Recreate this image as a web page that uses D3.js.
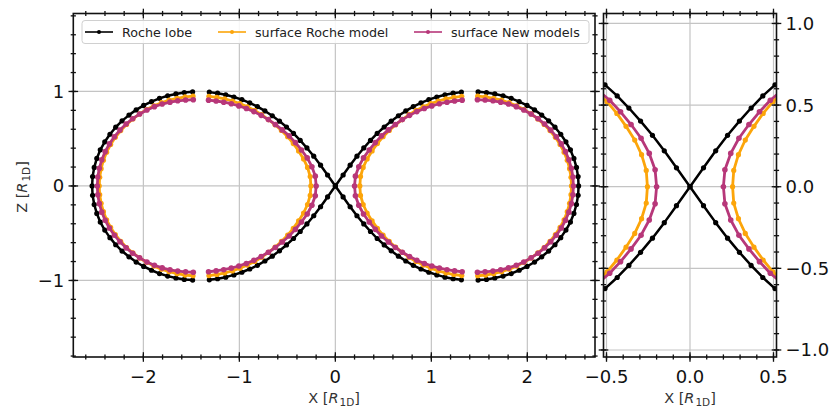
<!DOCTYPE html>
<html><head><meta charset="utf-8">
<script src="https://cdn.jsdelivr.net/npm/d3@7"></script>
<style>html,body{margin:0;padding:0;background:#fff;} svg{display:block;font-family:"DejaVu Sans",sans-serif;}</style>
</head><body><svg id="c" width="840" height="408"></svg>
<script>
// ---- data (upper half of the right-hand lobe; the figure is mirror symmetric in X and Z) ----
const seriesNames = ["Roche lobe", "surface Roche model", "surface New models"];
// outer branch (far side of the star, back point -> near pole)
const rocheOuterX = [2.534,2.529,2.512,2.485,2.449,2.402,2.348,2.288,2.222,2.150,2.075,1.997,1.915,1.832,1.747,1.661,1.574,1.487];
const rocheOuterZ = [0,0.099,0.196,0.291,0.382,0.467,0.547,0.622,0.689,0.750,0.805,0.852,0.892,0.927,0.954,0.974,0.989,0.996];
// inner branch (near pole -> L1 point)
const rocheInnerX = [1.313,1.227,1.142,1.057,0.974,0.892,0.812,0.734,0.657,0.582,0.509,0.436,0.366,0.296,0.225,0.154,0.081,0];
const rocheInnerZ = [0.993,0.982,0.965,0.941,0.913,0.879,0.840,0.794,0.743,0.686,0.624,0.556,0.482,0.402,0.315,0.220,0.116,0];

const surfRocheOuterX = [2.460,2.455,2.440,2.416,2.383,2.341,2.292,2.236,2.175,2.109,2.040,1.966,1.889,1.811,1.731,1.649,1.566,1.483];
const surfRocheOuterZ = [0,0.092,0.183,0.272,0.358,0.439,0.515,0.586,0.651,0.709,0.762,0.808,0.848,0.881,0.908,0.928,0.943,0.950];
const surfRocheInnerX = [1.317,1.235,1.153,1.073,0.994,0.917,0.841,0.768,0.697,0.628,0.562,0.497,0.438,0.383,0.331,0.290,0.262,0.255];
const surfRocheInnerZ = [0.948,0.937,0.921,0.899,0.871,0.837,0.799,0.754,0.703,0.648,0.587,0.521,0.449,0.370,0.286,0.196,0.100,0];

const surfNewOuterX = [2.480,2.475,2.459,2.433,2.398,2.354,2.302,2.244,2.180,2.112,2.039,1.963,1.885,1.804,1.723,1.642,1.560,1.480];
const surfNewOuterZ = [0,0.094,0.187,0.277,0.363,0.445,0.521,0.591,0.655,0.712,0.761,0.804,0.839,0.867,0.887,0.901,0.909,0.913];
const surfNewInnerX = [1.321,1.242,1.163,1.084,1.005,0.927,0.849,0.773,0.698,0.625,0.553,0.481,0.416,0.353,0.293,0.244,0.209,0.200];
const surfNewInnerZ = [0.908,0.899,0.886,0.870,0.847,0.820,0.787,0.747,0.702,0.651,0.593,0.530,0.459,0.381,0.297,0.204,0.104,0];

// tick labels
const leftXTicks = [-2,-1,0,1,2];
const leftYTicks = [-1,0,1];
const rightXTicks = [-0.5,0,0.5];
const rightYTicks = [-1,-0.5,0,0.5,1];

// ---- layout ----
const colors = ["#000000", "#fca50a", "#b73779"];
const svg = d3.select("#c");
const L = {x0:73.3, x1:595, y0:13.5, y1:357};
const R = {x0:603.5, x1:776.5, y0:13.5, y1:357};
const xL = d3.scaleLinear().domain([-2.73, 2.705]).range([L.x0, L.x1]);
const yL = d3.scaleLinear().domain([-1.81, 1.825]).range([L.y1, L.y0]);
const xR = d3.scaleLinear().domain([-0.518, 0.518]).range([R.x0, R.x1]);
const yR = d3.scaleLinear().domain([-1.043, 1.061]).range([R.y1, R.y0]);

function zip(xs, zs){ return xs.map((x,i)=>[x, zs[i]]); }
function branches(ox, oz, ix, iz){
  const ou = zip(ox, oz), iu = zip(ix, iz);
  const outer = [...ou.slice().reverse(), ...ou.slice(1).map(([x,z])=>[x,-z])];
  const inner = [...iu, ...iu.slice(0,-1).reverse().map(([x,z])=>[x,-z])];
  const right = [outer, inner];
  const left = right.map(b=>b.map(([x,z])=>[-x,z]));
  return right.concat(left);
}
const series = [
  {name: seriesNames[0], color: colors[0], lw: 2.5, r: 2.6, paths: branches(rocheOuterX, rocheOuterZ, rocheInnerX, rocheInnerZ)},
  {name: seriesNames[1], color: colors[1], lw: 2.8, r: 2.6, paths: branches(surfRocheOuterX, surfRocheOuterZ, surfRocheInnerX, surfRocheInnerZ)},
  {name: seriesNames[2], color: colors[2], lw: 2.8, r: 2.8, paths: branches(surfNewOuterX, surfNewOuterZ, surfNewInnerX, surfNewInnerZ)}
];

const defs = svg.append("defs");
function panel(id, box, xs, ys, xMajor, yMajor, xMinor, yMinor, xTickVals, yTickVals, yLabelsRight){
  defs.append("clipPath").attr("id", id).append("rect")
    .attr("x", box.x0).attr("y", box.y0).attr("width", box.x1-box.x0).attr("height", box.y1-box.y0);
  const g = svg.append("g");
  // grid
  const grid = g.append("g").attr("stroke", "#c4c4c4").attr("stroke-width", 1.2).attr("clip-path", `url(#${id})`);
  xMajor.forEach(v=>grid.append("line").attr("x1", xs(v)).attr("x2", xs(v)).attr("y1", box.y0).attr("y2", box.y1));
  yMajor.forEach(v=>grid.append("line").attr("y1", ys(v)).attr("y2", ys(v)).attr("x1", box.x0).attr("x2", box.x1));
  // curves
  const cg = g.append("g").attr("clip-path", `url(#${id})`);
  const line = d3.line().x(d=>xs(d[0])).y(d=>ys(d[1]));
  series.forEach(s=>{
    s.paths.forEach(p=>{
      cg.append("path").attr("d", line(p)).attr("fill", "none").attr("stroke", s.color)
        .attr("stroke-width", s.lw).attr("stroke-linejoin", "round");
      cg.selectAll(null).data(p).enter().append("circle")
        .attr("cx", d=>xs(d[0])).attr("cy", d=>ys(d[1])).attr("r", s.r).attr("fill", s.color);
    });
  });
  // spines
  g.append("rect").attr("x", box.x0).attr("y", box.y0).attr("width", box.x1-box.x0).attr("height", box.y1-box.y0)
    .attr("fill", "none").attr("stroke", "#111").attr("stroke-width", 1.6);
  // ticks (in-out on all sides)
  const tk = g.append("g").attr("stroke", "#111").attr("stroke-width", 1.3);
  function xt(v, len){ const x = xs(v);
    tk.append("line").attr("x1", x).attr("x2", x).attr("y1", box.y1-len).attr("y2", box.y1+len);
    tk.append("line").attr("x1", x).attr("x2", x).attr("y1", box.y0-len).attr("y2", box.y0+len); }
  function yt(v, len){ const y = ys(v);
    tk.append("line").attr("y1", y).attr("y2", y).attr("x1", box.x0-len).attr("x2", box.x0+len);
    tk.append("line").attr("y1", y).attr("y2", y).attr("x1", box.x1-len).attr("x2", box.x1+len); }
  xMinor.forEach(v=>xt(v, 2.6)); yMinor.forEach(v=>yt(v, 2.6));
  xMajor.forEach(v=>xt(v, 4.8)); yMajor.forEach(v=>yt(v, 4.8));
  // labels
  g.append("g").selectAll("text").data(xTickVals.vals).enter().append("text")
    .attr("x", d=>xs(d)).attr("y", box.y1+26).attr("text-anchor", "middle")
    .attr("font-size", 18).attr("fill", "#111").text(d=>(d<0?"\u2212":"")+xTickVals.fmt(Math.abs(d)));
  g.append("g").selectAll("text").data(yTickVals.vals).enter().append("text")
    .attr("x", yLabelsRight ? box.x1+9 : box.x0-9).attr("y", d=>ys(d)+6.5)
    .attr("text-anchor", yLabelsRight ? "start" : "end")
    .attr("font-size", 18).attr("fill", "#111").text(d=>(d<0?"\u2212":"")+yTickVals.fmt(Math.abs(d)));
  return g;
}
const rng = (a,b,s)=>d3.range(Math.round(a/s), Math.round(b/s)+1).map(i=>+(i*s).toFixed(3));
panel("clipL", L, xL, yL, leftXTicks, leftYTicks,
  rng(-2.6, 2.6, 0.2), rng(-1.8, 1.8, 0.2),
  {vals: leftXTicks, fmt: d3.format("d")}, {vals: leftYTicks, fmt: d3.format("d")}, false);
panel("clipR", R, xR, yR, rightXTicks, rightYTicks,
  rng(-0.5, 0.5, 0.1), rng(-1.0, 1.0, 0.1),
  {vals: rightXTicks, fmt: d3.format(".1f")}, {vals: rightYTicks, fmt: d3.format(".1f")}, true);

// axis labels
function axisLabel(x, y, letter, rotate){
  const t = svg.append("text").attr("font-size", 14.5).attr("fill", "#333").attr("text-anchor", "middle")
    .attr("transform", `translate(${x},${y})` + (rotate ? " rotate(-90)" : ""));
  t.append("tspan").text(letter + " [");
  t.append("tspan").attr("font-style", "italic").text("R");
  t.append("tspan").attr("font-size", 10.5).attr("dy", 3).attr("dx", 1).text("1D");
  t.append("tspan").attr("dy", -3).text("]");
}
axisLabel((L.x0+L.x1)/2, 403, "X", false);
axisLabel((R.x0+R.x1)/2, 403, "X", false);
axisLabel(27, 187, "Z", true);

// legend
const lg = svg.append("g");
lg.append("rect").attr("x", 82).attr("y", 20.5).attr("width", 507).attr("height", 23).attr("rx", 3)
  .attr("fill", "#fff").attr("fill-opacity", 0.85).attr("stroke", "#d0d0d0").attr("stroke-width", 1);
const legX = [85, 218, 414];
series.forEach((s,i)=>{
  const x = legX[i], y = 32;
  lg.append("line").attr("x1", x).attr("x2", x+28).attr("y1", y).attr("y2", y).attr("stroke", s.color).attr("stroke-width", 1.6);
  lg.append("circle").attr("cx", x+14).attr("cy", y).attr("r", 2).attr("fill", s.color);
  lg.append("text").attr("x", x+37).attr("y", y+4.5).attr("font-size", 12.7).attr("fill", "#222").text(s.name);
});
</script></body></html>
